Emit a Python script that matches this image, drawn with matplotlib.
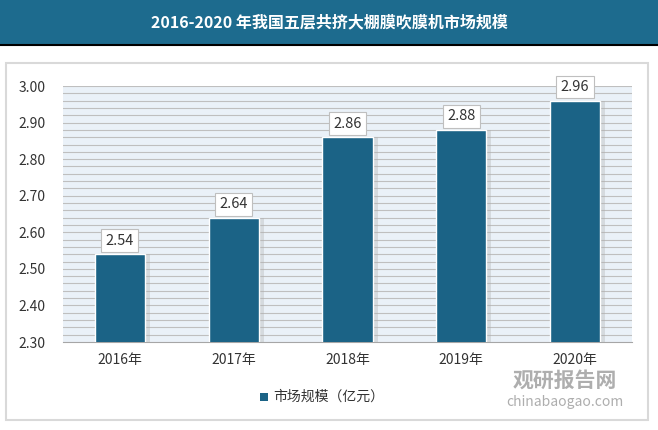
import matplotlib.pyplot as plt
import matplotlib.patches as mpatches
import numpy as np

plt.rcParams['font.family'] = ['Noto Sans CJK SC', 'DejaVu Sans']

# data
years = ["2016年", "2017年", "2018年", "2019年", "2020年"]
values = [2.54, 2.64, 2.86, 2.88, 2.96]
yticks = [2.30, 2.40, 2.50, 2.60, 2.70, 2.80, 2.90, 3.00]

bar_color = "#1B6386"
title_color = "#1D6B8E"

fig = plt.figure(figsize=(6.58, 4.30), dpi=100)
fig.patch.set_facecolor("white")

# title bar
fig.patches.append(mpatches.Rectangle((0, 1 - 44 / 430), 1, 44 / 430, transform=fig.transFigure,
                                      facecolor=title_color, edgecolor="none", zorder=-2))
fig.lines.append(plt.Line2D([0, 1], [1 - 45 / 430, 1 - 45 / 430], transform=fig.transFigure,
                            color="black", lw=1.5, zorder=-1))
fig.text(0.5, 1 - 22 / 430, "2016-2020 年我国五层共挤大棚膜吹膜机市场规模", color="white",
         fontsize=11.5, fontweight="bold", ha="center", va="center")

# outer panel with soft border
fig.patches.append(mpatches.Rectangle((6 / 658, 1 - 420 / 430), 642 / 658, 357 / 430,
                                      transform=fig.transFigure, facecolor="white",
                                      edgecolor="#D9D9D9", lw=1.5, zorder=-2))

ax = fig.add_axes([63 / 658, 1 - 342 / 430, 569 / 658, 256 / 430], zorder=1)
ax.set_facecolor("#EAF1F8")
x = np.arange(len(years))
ax.set_xlim(-0.5, len(years) - 0.5)
ax.set_ylim(2.30, 3.00)

# minor grid every 0.02
for g in np.arange(2.32, 3.001, 0.02):
    ax.axhline(g, color="#BFBFBF", lw=0.8, zorder=1)

# shadows then bars
ax.bar(x + 0.03, np.array(values) - 2.30, bottom=2.30, width=0.47, color="#B0B0B0",
       alpha=0.35, zorder=2)
bars = ax.bar(x, values, width=0.44, color=bar_color, edgecolor="white", lw=1, zorder=3)

for xi, v in zip(x, values):
    ax.text(xi, v + 0.037, f"{v:.2f}", ha="center", va="center", fontsize=10.5, color="#333333",
            zorder=4, bbox=dict(boxstyle="square,pad=0.3", facecolor="white", edgecolor="#BFBFBF", lw=0.8))

ax.set_xticks(x)
ax.set_xticklabels(years, fontsize=10, color="#333333")
ax.set_yticks(yticks)
ax.set_yticklabels([f"{t:.2f}" for t in yticks], fontsize=10, color="#333333")
ax.tick_params(length=0)
ax.tick_params(axis="x", pad=8)
for lbl in ax.get_yticklabels():
    lbl.set_horizontalalignment("left")
ax.tick_params(axis="y", pad=32)
for s in ["top", "right", "left"]:
    ax.spines[s].set_visible(False)
ax.spines["bottom"].set_color("#A6A6A6")

# legend
fig.patches.append(mpatches.Rectangle((260 / 658, 1 - 401 / 430), 8 / 658, 8 / 430,
                                      transform=fig.transFigure, facecolor=bar_color,
                                      edgecolor="none"))
fig.text(273 / 658, 1 - 397 / 430, "市场规模（亿元）", fontsize=10, color="#333333",
         ha="left", va="center")

# watermark
fig.text(565 / 658, 1 - 380 / 430, "观研报告网", fontsize=15, fontweight="bold",
         color="#9A9A9A", ha="center", va="center", alpha=0.8)
fig.text(565 / 658, 1 - 402 / 430, "chinabaogao.com", fontsize=10,
         color="#9A9A9A", ha="center", va="center", alpha=0.8)

fig.savefig("out.png", dpi=100)
